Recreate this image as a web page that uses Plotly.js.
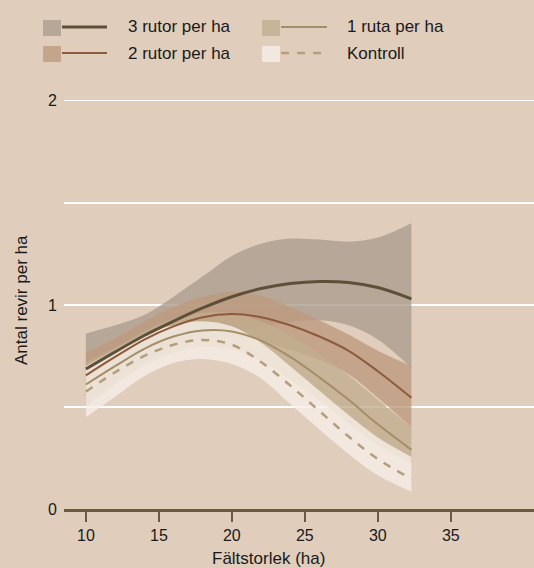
<!DOCTYPE html>
<html>
<head>
<meta charset="utf-8">
<script src="https://cdn.plot.ly/plotly-3.0.1.min.js"></script>
<style>html,body{margin:0;padding:0;background:#e0cdbc;}#chart{width:534px;height:568px;}</style>
</head>
<body>
<div id="chart"></div>
<script>
// ---- data ----
const xs = [10, 12, 14, 16, 18, 20, 22, 24, 26, 28, 30, 32.3];

const rutor3Line  = [0.686, 0.77, 0.85, 0.92, 0.985, 1.04, 1.08, 1.105, 1.115, 1.11, 1.085, 1.03];
const rutor3Upper = [0.86, 0.90, 0.95, 1.04, 1.14, 1.24, 1.30, 1.325, 1.32, 1.31, 1.33, 1.40];
const rutor3Lower = [0.51, 0.62, 0.72, 0.79, 0.83, 0.86, 0.89, 0.915, 0.925, 0.90, 0.83, 0.69];

const rutor2Line  = [0.655, 0.745, 0.83, 0.895, 0.94, 0.955, 0.94, 0.90, 0.845, 0.775, 0.675, 0.545];
const rutor2Upper = [0.765, 0.835, 0.92, 0.99, 1.04, 1.065, 1.045, 0.99, 0.925, 0.855, 0.775, 0.70];
const rutor2Lower = [0.55, 0.65, 0.74, 0.80, 0.83, 0.84, 0.82, 0.78, 0.73, 0.66, 0.545, 0.40];

const ruta1Line  = [0.61, 0.70, 0.785, 0.845, 0.875, 0.87, 0.825, 0.745, 0.645, 0.535, 0.415, 0.29];
const ruta1Upper = [0.72, 0.79, 0.87, 0.93, 0.96, 0.96, 0.92, 0.85, 0.76, 0.655, 0.535, 0.40];
const ruta1Lower = [0.50, 0.61, 0.70, 0.765, 0.795, 0.78, 0.725, 0.635, 0.53, 0.42, 0.31, 0.225];

const kontrollLine  = [0.575, 0.67, 0.75, 0.805, 0.828, 0.805, 0.72, 0.605, 0.48, 0.355, 0.245, 0.147];
const kontrollUpper = [0.70, 0.78, 0.855, 0.90, 0.92, 0.895, 0.815, 0.70, 0.58, 0.46, 0.35, 0.255];
const kontrollLower = [0.45, 0.55, 0.65, 0.715, 0.735, 0.71, 0.64, 0.515, 0.39, 0.27, 0.165, 0.085];

const seriesNames = ["3 rutor per ha", "2 rutor per ha", "1 ruta per ha", "Kontroll"];
const yTickVals = [0, 0.5, 1, 1.5, 2];
const yTickText = ["0", "", "1", "", "2"];
const xTickVals = [10, 15, 20, 25, 30, 35];
const xTitle = "Fältstorlek (ha)";
const yTitle = "Antal revir per ha";

// ---- styles ----
const BG = "#e0cdbc";
const FONT = "Liberation Sans, Arial, Helvetica, sans-serif";
const styles = [
  {fill: "rgba(172,157,142,0.8)", line: "#5e5038", width: 3, dash: "solid"},
  {fill: "rgba(189,155,127,0.8)", line: "#8e5a3a", width: 2, dash: "solid"},
  {fill: "rgba(194,174,143,0.8)", line: "#a48e68", width: 2, dash: "solid"},
  {fill: "rgba(246,239,231,0.8)", line: "#b49e7c", width: 2.5, dash: "8px,8px"}
];
const bands = [
  [rutor3Lower, rutor3Upper], [rutor2Lower, rutor2Upper],
  [ruta1Lower, ruta1Upper], [kontrollLower, kontrollUpper]
];
const lines = [rutor3Line, rutor2Line, ruta1Line, kontrollLine];

const traces = [];
bands.forEach((b, i) => {
  traces.push({x: xs, y: b[0], type: "scatter", mode: "lines",
    line: {width: 0, shape: "spline", smoothing: 1}, hoverinfo: "skip", showlegend: false});
  traces.push({x: xs, y: b[1], type: "scatter", mode: "lines", fill: "tonexty",
    fillcolor: styles[i].fill, line: {width: 0, shape: "spline", smoothing: 1},
    hoverinfo: "skip", showlegend: false});
});
[3, 2, 1, 0].forEach(i => {
  traces.push({x: xs, y: lines[i], type: "scatter", mode: "lines", name: seriesNames[i],
    line: {color: styles[i].line, width: styles[i].width, dash: styles[i].dash, shape: "spline", smoothing: 1},
    showlegend: false});
});

// ---- layout helpers (pixel -> paper) ----
const L = 64, R = 0, T = 60, B = 59, W = 534, H = 568;
const pw = W - L - R, ph = H - T - B;
const px = v => (v - L) / pw;
const py = v => (H - B - v) / ph;

const shapes = [];
const annotations = [];
const legendPos = [
  {sx: 43, lx0: 62, lx1: 107, tx: 126, y: 28},   // 3 rutor
  {sx: 43, lx0: 62, lx1: 107, tx: 126, y: 54},   // 2 rutor
  {sx: 262, lx0: 281, lx1: 327, tx: 345, y: 28}, // 1 ruta
  {sx: 262, lx0: 281, lx1: 327, tx: 345, y: 54}  // Kontroll
];
legendPos.forEach((p, i) => {
  shapes.push({type: "rect", xref: "paper", yref: "paper",
    x0: px(p.sx), x1: px(p.sx + 18), y0: py(p.y - 8), y1: py(p.y + 8),
    fillcolor: styles[i].fill, line: {width: 0}});
  shapes.push({type: "line", xref: "paper", yref: "paper",
    x0: px(p.lx0), x1: px(p.lx1), y0: py(p.y - 1), y1: py(p.y - 1),
    line: {color: styles[i].line, width: styles[i].width, dash: styles[i].dash}});
  annotations.push({xref: "paper", yref: "paper", x: px(p.tx), y: py(p.y - 1),
    xanchor: "left", yanchor: "middle", showarrow: false, text: seriesNames[i],
    font: {family: FONT, size: 17, color: "#1a1a1a"}});
});
annotations.push({xref: "paper", yref: "paper", x: px(21), y: py(300), textangle: -90,
  xanchor: "center", yanchor: "middle", showarrow: false, text: yTitle,
  font: {family: FONT, size: 17, color: "#1a1a1a"}});
annotations.push({xref: "paper", yref: "paper", x: px(268), y: py(558),
  xanchor: "center", yanchor: "middle", showarrow: false, text: xTitle,
  font: {family: FONT, size: 17, color: "#1a1a1a"}});

const layout = {
  width: W, height: H,
  margin: {l: L, r: R, t: T, b: B, pad: 0},
  paper_bgcolor: BG, plot_bgcolor: BG,
  showlegend: false,
  font: {family: FONT, size: 16, color: "#1a1a1a"},
  xaxis: {range: [8.5, 40.7], tickvals: xTickVals, ticks: "outside", ticklen: 10, tickwidth: 2,
    tickcolor: "#6b5a40", showline: true, linecolor: "#6b5a40", linewidth: 2.5,
    showgrid: false, zeroline: false, fixedrange: true, ticklabelstandoff: 0},
  yaxis: {range: [0, 2.2], tickvals: yTickVals, ticktext: yTickText, ticks: "",
    showgrid: true, gridcolor: "#ffffff", gridwidth: 1.3, zeroline: false, showline: false,
    ticklabelstandoff: 6, fixedrange: true},
  shapes: shapes,
  annotations: annotations
};

Plotly.newPlot("chart", traces, layout, {displayModeBar: false, staticPlot: true});
</script>
</body>
</html>
